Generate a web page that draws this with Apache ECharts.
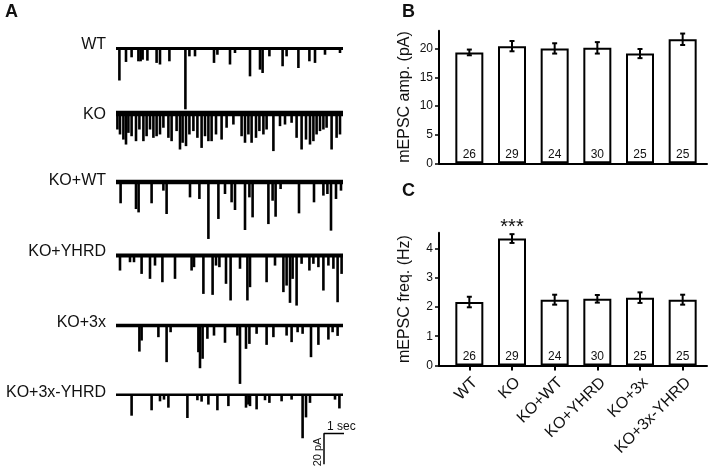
<!DOCTYPE html>
<html><head><meta charset="utf-8">
<script src="https://cdn.jsdelivr.net/npm/echarts@6/dist/echarts.min.js"></script>
<style>html,body{margin:0;padding:0;background:#fff}#c{width:712px;height:469px}</style>
</head><body><div id="c"></div>
<script>
// ---------- data ----------
const groups = ['WT', 'KO', 'KO+WT', 'KO+YHRD', 'KO+3x', 'KO+3x-YHRD'];
const ampMean = [19.4, 20.5, 20.1, 20.2, 19.2, 21.7];
const ampSem = [0.5, 0.9, 0.9, 1.0, 0.8, 1.0];
const freqMean = [2.17, 4.34, 2.25, 2.28, 2.32, 2.25];
const freqSem = [0.18, 0.15, 0.17, 0.13, 0.18, 0.17];
const cellCounts = [26, 29, 24, 30, 25, 25];
const freqSig = ['', '***', '', '', '', ''];
const ampTicks = [0, 5, 10, 15, 20];
const freqTicks = [0, 1, 2, 3, 4];
const ampAxisMax = 23.2;
const freqAxisMax = 4.54;

// example traces: events as [time (s), amplitude (pA)]
const traceDuration = 11.35;
const traceWT = [[0.17,20],[0.5,8.4],[0.78,5.5],[1.12,8],[1.23,8],[1.33,7],[1.57,7.6],[2.03,9],[2.2,10],[2.67,8],[3.47,38],[3.67,4.9],[3.95,4.9],[4.9,9],[5.07,3.9],[5.7,10],[5.95,2.8],[6.7,17.4],[7.2,13.2],[7.33,15.3],[7.67,4.9],[8.33,11.1],[8.53,4.9],[9.12,12.2],[9.67,8],[9.95,9],[10.45,3.9],[11.2,2.8]];
const traceKO = [[0.07,10],[0.2,13.1],[0.37,16.3],[0.5,19.4],[0.62,12.1],[0.78,14.2],[1.0,17.3],[1.17,10],[1.37,17.3],[1.53,14.2],[1.7,10],[1.87,15.2],[2.03,14.2],[2.2,13.1],[2.37,8.9],[2.62,15.2],[2.78,17.3],[3.03,11],[3.2,22.5],[3.33,18.3],[3.5,20.4],[3.67,13.1],[3.87,11],[4.07,15.2],[4.28,21.5],[4.45,14.2],[4.62,17.3],[4.78,17.3],[5.0,13.1],[5.28,16.3],[5.53,8.9],[5.87,6.9],[6.28,14.2],[6.45,18.3],[6.62,13.1],[6.78,18.3],[7.0,15.2],[7.17,11],[7.37,13.1],[7.53,10],[7.87,23.5],[8.2,7.9],[8.45,6.9],[8.78,5.8],[9.03,15.2],[9.28,22.5],[9.5,16.3],[9.7,19.4],[9.87,17.3],[10.03,13.1],[10.2,11],[10.37,10],[10.53,8.9],[10.78,22.5],[11.03,15.2],[11.2,13.1]];
const traceKOWT = [[0.23,13.3],[1.0,16.9],[1.13,19],[1.78,13.3],[2.37,5.4],[2.53,20],[3.7,9.6],[4.17,10.6],[4.62,35.6],[5.12,23.1],[5.45,7.5],[5.78,12.7],[5.95,17.5],[6.45,30],[6.67,9.6],[6.83,22.1],[7.62,26.3],[7.83,11.7],[7.98,21.7],[8.23,4.4],[9.15,19.6],[9.9,12.7],[10.37,8.5],[10.57,7.5],[10.75,30.4],[11.0,10.6],[11.25,5.4]];
const traceKOYHRD = [[0.2,9.4],[0.7,4.2],[0.9,4.2],[1.28,11.5],[1.7,14.6],[1.95,6.3],[2.32,16.7],[2.95,14.6],[3.78,9.4],[3.9,7.3],[4.37,24],[4.83,24.6],[5.0,6.3],[5.17,7.3],[5.5,17.7],[5.73,28.1],[6.2,8.3],[6.57,28.1],[6.7,19.8],[7.53,16.7],[7.95,6.3],[8.37,22.9],[8.53,18.8],[8.7,29.6],[8.83,14.6],[9.03,31.3],[9.28,5.2],[9.67,9.4],[9.87,5.2],[10.12,7.3],[10.37,21.9],[10.62,6.3],[10.87,8.3],[11.08,29.2],[11.28,11.5]];
const traceKO3x = [[1.17,16.3],[1.28,9.4],[2.12,7.3],[2.53,22.9],[2.73,4.2],[4.12,16.7],[4.2,26.7],[4.33,20.8],[4.57,8.3],[4.9,6.3],[5.45,10.8],[6.07,6.3],[6.2,36.5],[6.5,14.6],[6.67,11.5],[7.03,5.2],[7.53,12.1],[7.87,7.3],[8.53,6.3],[8.78,10.4],[9.08,4.2],[9.33,5.2],[9.75,19.8],[10.12,12.1],[10.62,8.8],[10.83,4.2],[11.08,6.5]];
const traceKO3xYHRD = [[0.78,13.5],[1.78,10],[2.2,4.2],[2.4,3.1],[2.62,8.3],[3.57,15],[4.07,3.5],[4.28,4.4],[4.62,6.3],[5.07,10],[5.62,7.3],[6.5,8.3],[6.62,6.3],[6.7,7.3],[7.03,9.4],[7.45,3.5],[7.67,5.2],[8.28,4.2],[8.78,3.1],[9.33,28.1],[9.5,14.6],[9.7,5.2],[10.95,3.1],[11.17,8.8]];
const scaleBarSec = 1;
const scaleBarPA = 20;
const scaleBarAnchor = [10.4, -25]; // [s, pA] corner of the scale bar

// ---------- layout ----------
const FONT = 'Liberation Sans, Arial, sans-serif';
const traces = [traceWT, traceKO, traceKOWT, traceKOYHRD, traceKO3x, traceKO3xYHRD];
const traceBase = [48.5, 113.5, 182, 255.5, 325.5, 395];
const traceLabelY = [45, 115, 181, 252, 323, 393];
const baseWidth = [3, 5.5, 4.5, 4, 3.5, 2.5];
const PX_PER_PA = 1.6, PX_PER_S = 20, TRACE_LEFT = 116;
const Y_MAX = 3, Y_MIN = -48;

const grid = [], xAxis = [], yAxis = [], series = [];
traces.forEach((ev, i) => {
  grid.push({left: TRACE_LEFT, top: traceBase[i] - Y_MAX * PX_PER_PA,
             width: traceDuration * PX_PER_S, height: (Y_MAX - Y_MIN) * PX_PER_PA});
  xAxis.push({type: 'value', gridIndex: i, min: 0, max: traceDuration, show: false});
  yAxis.push({type: 'value', gridIndex: i, min: Y_MIN, max: Y_MAX, show: false});
  series.push({type: 'line', xAxisIndex: i, yAxisIndex: i, silent: true, symbol: 'none',
    data: [[0, 0], [traceDuration, 0]], lineStyle: {color: '#000', width: baseWidth[i]}, z: 3});
  series.push({type: 'bar', xAxisIndex: i, yAxisIndex: i, silent: true, barWidth: 2.6,
    data: ev.map(e => [e[0], -e[1]]), itemStyle: {color: '#000'}, z: 2});
});
// scale bar in last trace's coordinates
series.push({type: 'line', xAxisIndex: 5, yAxisIndex: 5, silent: true, symbol: 'none',
  data: [[scaleBarAnchor[0] + scaleBarSec, scaleBarAnchor[1]], scaleBarAnchor,
         [scaleBarAnchor[0], scaleBarAnchor[1] - scaleBarPA]],
  lineStyle: {color: '#000', width: 1.5}});

// bar panels
const B = {top: 30.7, height: 132.6}, C = {top: 232.7, height: 132.8};
grid.push({left: 439, width: 268, top: B.top, height: B.height}); // 6 B axes
grid.push({left: 448, width: 256, top: B.top, height: B.height}); // 7 B bars
grid.push({left: 439, width: 268, top: C.top, height: C.height}); // 8 C axes
grid.push({left: 448, width: 256, top: C.top, height: C.height}); // 9 C bars

function axesPair(gi, max, ticks, name) {
  xAxis.push({type: 'category', gridIndex: gi, data: groups,
    axisLine: {lineStyle: {color: '#000', width: 2}}, axisTick: {show: false}, axisLabel: {show: false}});
  yAxis.push({type: 'value', gridIndex: gi, min: 0, max: max, splitLine: {show: false},
    axisLine: {show: true, lineStyle: {color: '#000', width: 2}},
    axisTick: {show: true, customValues: ticks, length: 4, lineStyle: {color: '#000', width: 1.5}},
    axisLabel: {customValues: ticks, fontSize: 12, color: '#111', fontFamily: FONT, margin: 6},
    name: name, nameLocation: 'middle', nameGap: 26, nameRotate: 90,
    nameTextStyle: {fontSize: 16, color: '#111', fontFamily: FONT}});
}
function barsPair(gi, max, showLabels) {
  xAxis.push({type: 'category', gridIndex: gi, data: groups,
    axisLine: {show: false},
    axisTick: {show: showLabels, alignWithLabel: true, length: 5, lineStyle: {color: '#000', width: 2}},
    axisLabel: {show: showLabels, rotate: 45, interval: 0, fontSize: 16, color: '#111', fontFamily: FONT,
      margin: 9, verticalAlign: 'top'}});
  yAxis.push({type: 'value', gridIndex: gi, min: 0, max: max, show: false});
}
axesPair(6, ampAxisMax, ampTicks, 'mEPSC amp. (pA)');
barsPair(7, ampAxisMax, false);
axesPair(8, freqAxisMax, freqTicks, 'mEPSC freq. (Hz)');
barsPair(9, freqAxisMax, true);

function errRender(sig) {
  return function (params, api) {
    const i = api.value(0), m = api.value(1), s = api.value(2);
    const top = api.coord([i, m + s]), bot = api.coord([i, m - s]);
    const hw = 2.5, st = {stroke: '#000', lineWidth: 2};
    const ch = [
      {type: 'line', shape: {x1: top[0], y1: top[1], x2: bot[0], y2: bot[1]}, style: st},
      {type: 'line', shape: {x1: top[0] - hw, y1: top[1], x2: top[0] + hw, y2: top[1]}, style: st},
      {type: 'line', shape: {x1: bot[0] - hw, y1: bot[1], x2: bot[0] + hw, y2: bot[1]}, style: st}
    ];
    if (sig && sig[params.dataIndex]) {
      ch.push({type: 'text', style: {text: sig[params.dataIndex], x: top[0], y: top[1] - 7,
        align: 'center', verticalAlign: 'middle', fontSize: 20, fontFamily: FONT, fill: '#111'}});
    }
    return {type: 'group', children: ch};
  };
}
function barSeries(gi, means, sems, sig) {
  series.push({type: 'bar', xAxisIndex: gi, yAxisIndex: gi, barWidth: 28, silent: true,
    data: means, itemStyle: {color: '#fff', borderColor: '#000', borderWidth: 2},
    label: {show: true, position: 'insideBottom', distance: 3, fontSize: 12, color: '#111', fontFamily: FONT,
      formatter: p => String(cellCounts[p.dataIndex])}});
  series.push({type: 'custom', xAxisIndex: gi, yAxisIndex: gi, silent: true, z: 5,
    data: means.map((m, i) => [i, m, sems[i]]), renderItem: errRender(sig)});
}
barSeries(7, ampMean, ampSem, null);
barSeries(9, freqMean, freqSem, freqSig);

// texts
const graphic = [
  {type: 'text', left: 5, top: 3, style: {text: 'A', font: 'bold 18px ' + FONT, fill: '#111'}},
  {type: 'text', left: 402, top: 3, style: {text: 'B', font: 'bold 18px ' + FONT, fill: '#111'}},
  {type: 'text', left: 402, top: 182, style: {text: 'C', font: 'bold 18px ' + FONT, fill: '#111'}},
  {type: 'text', x: 327, y: 427, style: {text: '1 sec', font: '12px ' + FONT, fill: '#111', verticalAlign: 'middle'}},
  {type: 'text', x: 318, y: 452, rotation: Math.PI / 2,
    style: {text: '20 pA', font: '11px ' + FONT, fill: '#111', align: 'center', verticalAlign: 'middle'}}
];
groups.forEach((g, i) => {
  graphic.push({type: 'text', x: 106, y: traceLabelY[i],
    style: {text: g, font: '16px ' + FONT, fill: '#111', align: 'right', verticalAlign: 'middle'}});
});

const chart = echarts.init(document.getElementById('c'), null, {renderer: 'canvas'});
chart.setOption({animation: false, backgroundColor: '#fff', grid, xAxis, yAxis, series, graphic});
</script>
</body></html>
